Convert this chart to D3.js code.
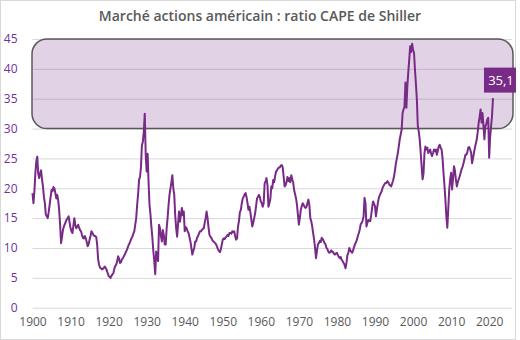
<!DOCTYPE html>
<html>
<head>
<meta charset="utf-8">
<script src="https://cdn.jsdelivr.net/npm/d3@7"></script>
<style>
  body { margin: 0; background: #fff; }
  svg { display: block; font-family: "Open Sans", sans-serif; }
</style>
</head>
<body>
<div id="chart"></div>
<script>
/* CONSTANTS AND GLOBALS */
const width = 520,
  height = 340,
  margin = { top: 39, bottom: 32.3, left: 32.5, right: 8 };

const lineColor = "#782A87";

/* DATA (quarterly readings, Jan / Apr / Jul / Oct) */
const title = "Marché actions américain : ratio CAPE de Shiller";
const yTicks = [0, 5, 10, 15, 20, 25, 30, 35, 40, 45];
const xTicks = [1900, 1910, 1920, 1930, 1940, 1950, 1960, 1970, 1980, 1990, 2000, 2010, 2020];
const highZone = [30, 45]; // shaded band
const lastLabel = "35,1";

const cape1900 = [
  19.2, 17.5, 19.5, 22.5, 24.5, 25.3, 22.5, 21.7, 22.5, 23.0, 21.5, 20.3,
  18.6, 17.5, 15.6, 15.3, 15.0, 16.0, 17.2, 18.5, 19.7, 19.5, 20.2, 20.0,
  19.2, 18.3, 18.9, 18.0, 16.4, 14.0, 10.8, 11.8, 13.0, 13.6, 14.0, 14.4,
  14.8, 15.0, 15.3, 14.3, 13.3, 12.8, 12.5, 13.8, 15.0, 13.8, 13.3, 13.6,
  13.9, 13.4, 13.0, 12.8, 12.2, 11.7, 11.6, 12.0, 11.6, 11.0, 10.3, 10.6,
  11.4, 12.0, 12.8, 12.5, 12.2, 12.0, 12.0, 11.8, 10.5, 8.1, 7.2, 6.7,
  6.6, 6.4, 6.5, 6.7, 6.9, 6.6, 6.3, 5.8, 5.3, 5.2, 5.0, 5.3,
  5.6, 5.8, 6.5, 7.0, 7.2, 7.8, 8.6, 8.2, 7.5, 7.6, 8.1, 8.3,
  8.6, 8.9, 9.3, 9.6
];
const cape1925 = [
  10.0, 10.5, 10.8, 11.2, 11.6, 11.9, 12.4, 12.8, 13.9, 15.0, 17.2, 19.0,
  21.4, 21.9, 23.5, 27.2, 27.8, 29.5, 32.5, 25.6, 22.8, 25.8, 21.0, 17.2,
  15.6, 13.5, 11.7, 9.5, 7.8, 5.6, 9.4, 8.5, 7.8, 13.9, 13.3, 12.0,
  11.1, 13.0, 12.2, 10.6, 10.6, 13.3, 15.0, 17.2, 18.9, 20.0, 21.0, 22.2,
  20.0, 18.9, 15.5, 13.3, 11.9, 14.0, 16.1, 14.4, 15.5, 16.7, 15.5, 16.1,
  12.8, 13.5, 13.3, 12.8, 12.5, 11.8, 11.1, 10.0, 8.9, 9.5, 10.0, 11.1,
  11.1, 11.7, 12.0, 12.4, 12.8, 12.8, 13.0, 13.2, 13.3, 14.2, 15.0, 16.1,
  15.0, 13.5, 12.2, 11.9, 11.7, 11.3, 11.1, 11.0, 10.8, 10.6, 10.2, 9.8,
  9.5, 9.3, 9.8, 10.6
];
const cape1950 = [
  11.4, 11.6, 11.5, 11.8, 11.9, 12.2, 12.0, 12.5, 12.5, 12.4, 12.8, 12.7,
  12.8, 12.0, 11.4, 11.6, 13.6, 14.5, 16.0, 16.4, 17.5, 18.3, 18.6, 19.0,
  19.2, 18.5, 17.5, 16.4, 16.9, 16.0, 14.8, 13.6, 14.2, 15.0, 15.8, 17.0,
  18.3, 18.6, 18.9, 18.5, 17.8, 17.5, 16.9, 17.5, 20.8, 21.2, 21.7, 20.5,
  16.9, 17.5, 18.2, 20.3, 20.0, 21.4, 21.0, 22.0, 22.8, 23.0, 23.3, 23.5,
  23.5, 23.8, 23.9, 23.5, 21.9, 20.3, 20.5, 21.0, 21.9, 21.2, 21.7, 21.0,
  22.2, 21.5, 21.0, 19.7, 19.0, 18.3, 17.2, 15.5, 13.9, 15.0, 16.4, 17.0,
  17.5, 17.2, 16.9, 16.7, 16.9, 17.5, 18.1, 17.2, 15.0, 14.5, 13.6, 12.5,
  11.4, 10.0, 8.3, 9.5
];
const cape1975 = [
  10.6, 10.8, 11.2, 11.0, 11.7, 11.5, 11.2, 10.8, 10.6, 10.0, 9.8, 9.4,
  9.2, 9.3, 9.6, 9.4, 9.3, 9.0, 8.9, 9.1, 9.2, 8.8, 8.5, 8.3,
  8.5, 8.0, 7.8, 7.5, 7.2, 6.6, 7.5, 8.8, 9.2, 10.0, 9.6, 9.4,
  9.2, 9.6, 10.2, 10.6, 11.0, 11.4, 12.0, 12.5, 13.1, 14.0, 14.2, 14.6,
  15.3, 18.4, 17.5, 13.6, 14.2, 14.7, 14.5, 14.5, 15.5, 16.8, 17.8, 17.4,
  17.0, 15.3, 16.5, 17.5, 18.4, 18.8, 19.2, 19.5, 20.1, 20.4, 20.7, 20.9,
  20.9, 21.2, 21.0, 20.6, 20.5, 20.3, 20.8, 21.3, 22.0, 23.0, 24.2, 25.0,
  25.9, 27.0, 28.2, 29.0, 29.8, 32.6, 33.2, 33.7, 37.7, 33.5, 37.1, 39.5,
  41.6, 43.8, 42.8, 44.2
];
const cape2000 = [
  43.2, 42.7, 39.9, 37.5, 34.9, 30.4, 29.5, 28.2, 26.0, 23.7, 21.5, 22.5,
  25.9, 27.0, 26.5, 26.8, 25.9, 26.2, 26.5, 25.8, 25.4, 25.9, 26.5, 26.2,
  26.5, 25.6, 26.3, 27.0, 27.3, 26.8, 26.5, 25.0, 22.6, 20.5, 18.1, 15.3,
  13.4, 16.5, 19.8, 21.5, 22.6, 19.8, 21.5, 23.7, 23.0, 21.5, 20.3, 21.0,
  21.5, 22.0, 22.6, 23.2, 23.6, 24.2, 24.8, 25.6, 25.6, 26.0, 26.8, 26.9,
  26.5, 26.0, 24.2, 25.0, 25.9, 26.8, 27.5, 28.2, 29.5, 31.0, 32.0, 33.2,
  31.0, 32.6, 30.5, 28.2, 30.4, 30.8, 31.5, 31.8, 25.1, 28.5, 30.4, 32.1,
  35.1
];

// one row per quarter, starting January 1900
const series = [].concat(cape1900, cape1925, cape1950, cape1975, cape2000)
  .map((v, i) => ({ year: 1900 + i / 4, value: v }));

/* SCALES */
const xScale = d3.scaleLinear()
  .domain([1900, 2026])
  .range([margin.left, width - margin.right]);

const yScale = d3.scaleLinear()
  .domain([0, 45])
  .range([height - margin.bottom, margin.top]);

/* SVG */
const svg = d3.select("#chart")
  .append("svg")
  .attr("width", width)
  .attr("height", height);

svg.append("rect") // chart frame
  .attr("x", 0.5)
  .attr("y", 0.5)
  .attr("width", 515)
  .attr("height", height - 1)
  .attr("fill", "#fff")
  .attr("stroke", "#d9d9d9");

svg.append("text")
  .attr("x", 260)
  .attr("y", 21)
  .attr("text-anchor", "middle")
  .attr("font-size", 14)
  .attr("font-weight", 600)
  .attr("fill", "#595959")
  .text(title);

// + GRIDLINES / Y AXIS
const yAxis = d3.axisLeft(yScale)
  .tickValues(yTicks)
  .tickSize(-(width - margin.right - margin.left))
  .tickPadding(15)
  .tickFormat(d3.format("d"));

svg.append("g")
  .attr("class", "yAxis")
  .attr("transform", `translate(${margin.left}, 0)`)
  .call(yAxis)
  .call(g => g.select(".domain").remove())
  .call(g => g.selectAll("line").attr("stroke", "#d9d9d9"))
  .call(g => g.selectAll("text")
    .attr("font-size", 12)
    .attr("font-family", "Open Sans")
    .attr("fill", "#7030a0"));

// + X AXIS
const xAxis = d3.axisBottom(xScale)
  .tickValues(xTicks)
  .tickSize(0)
  .tickPadding(10)
  .tickFormat(d3.format("d"));

svg.append("g")
  .attr("class", "xAxis")
  .attr("transform", `translate(0, ${height - margin.bottom})`)
  .call(xAxis)
  .call(g => g.select(".domain").remove())
  .call(g => g.selectAll("text")
    .attr("font-size", 12)
    .attr("font-family", "Open Sans")
    .attr("fill", "#595959"));

// + HIGH VALUATION BAND
svg.append("rect")
  .attr("x", margin.left - 0.5)
  .attr("y", yScale(highZone[1]))
  .attr("width", width - margin.right - margin.left + 1.5)
  .attr("height", yScale(highZone[0]) - yScale(highZone[1]))
  .attr("rx", 15)
  .attr("fill", lineColor)
  .attr("fill-opacity", 0.21)
  .attr("stroke", "#595959")
  .attr("stroke-width", 1.5);

// + LINE
const line = d3.line()
  .x(d => xScale(d.year))
  .y(d => yScale(d.value));

svg.append("path")
  .datum(series)
  .attr("d", line)
  .attr("fill", "none")
  .attr("stroke", lineColor)
  .attr("stroke-width", 2)
  .attr("stroke-linejoin", "round");

// + LAST VALUE LABEL
const last = series[series.length - 1];
const lx = xScale(last.year) + 7,
  ly = yScale(last.value) - 18;

svg.append("rect")
  .attr("x", lx - 16)
  .attr("y", ly - 12.5)
  .attr("width", 32)
  .attr("height", 25)
  .attr("fill", lineColor);

svg.append("text")
  .attr("x", lx + 1)
  .attr("y", ly + 4.5)
  .attr("text-anchor", "middle")
  .attr("font-size", 13)
  .attr("fill", "#fff")
  .text(lastLabel);
</script>
</body>
</html>
